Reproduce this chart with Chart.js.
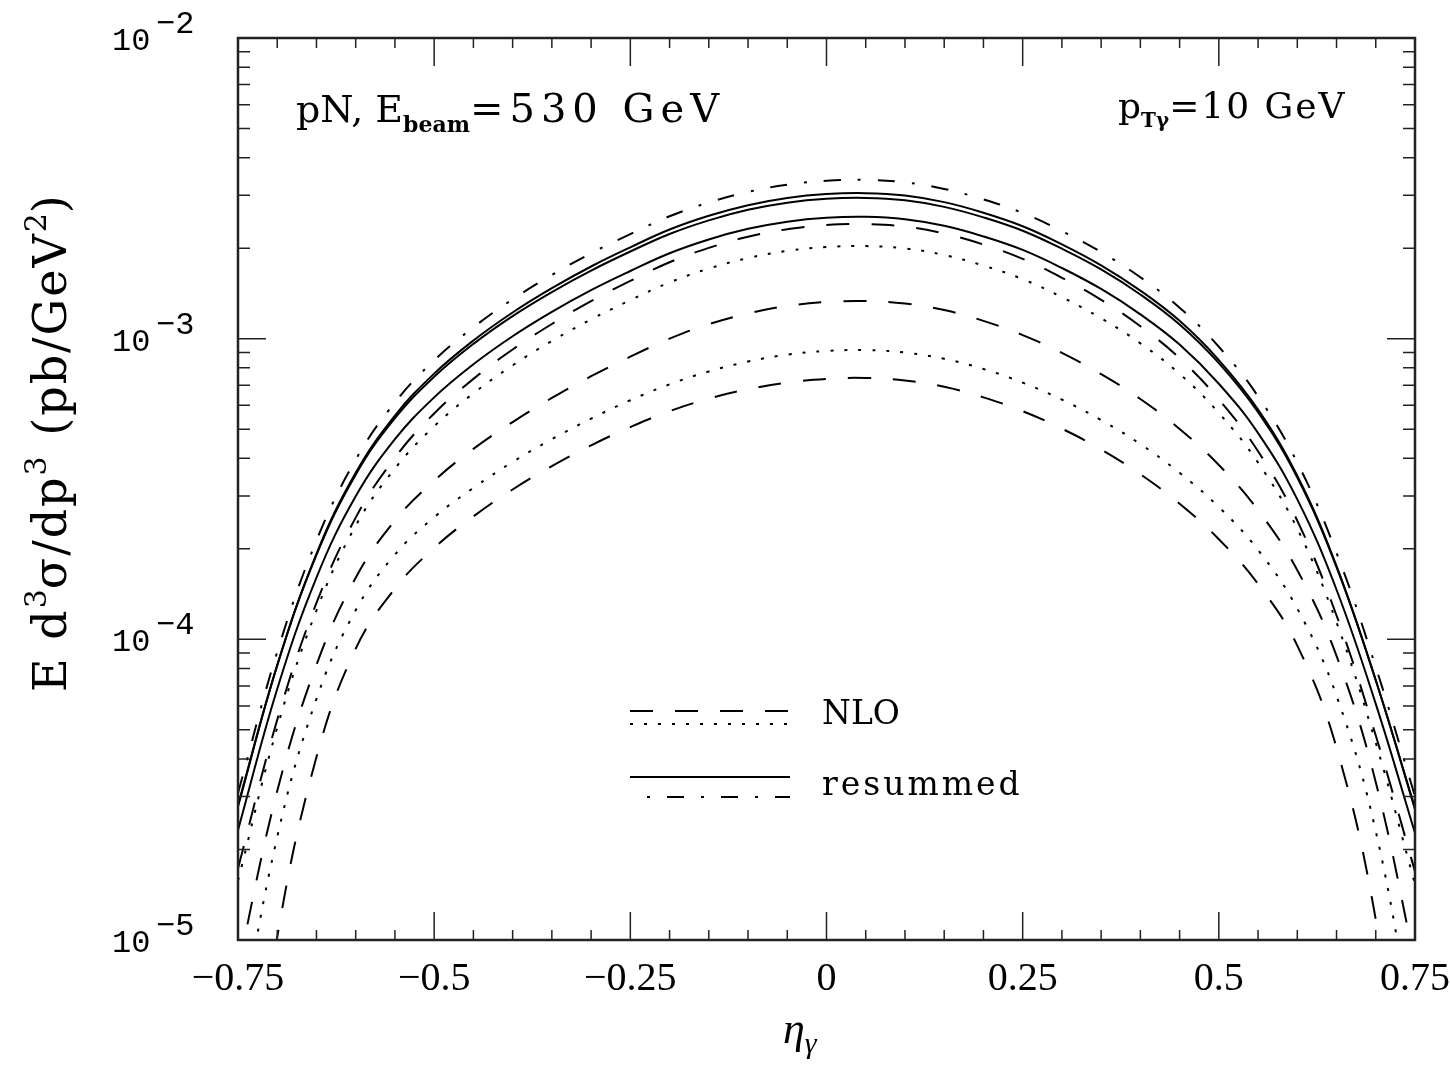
<!DOCTYPE html>
<html>
<head>
<meta charset="utf-8">
<script src="https://cdn.jsdelivr.net/npm/chart.js@4.4.1/dist/chart.umd.min.js"></script>
<style>
  html, body { margin: 0; padding: 0; background: #fff; }
  #wrap { width: 1450px; height: 1065px; }
</style>
</head>
<body>
<div id="wrap"><canvas id="chart" width="1450" height="1065"></canvas></div>
<script>
'use strict';
// photon rapidity grid
const eta = [-0.75,-0.7,-0.65,-0.6,-0.55,-0.5,-0.45,-0.4,-0.35,-0.3,-0.25,-0.2,-0.15,-0.1,-0.05,0,
  0.05,0.1,0.15,0.2,0.25,0.3,0.35,0.4,0.45,0.5,0.55,0.6,0.65,0.7,0.75];

// resummed curves (pb/GeV^2)
const resDashDot = [3.08e-5,9.08e-5,2.13e-4,3.96e-4,6.14e-4,8.47e-4,1.091e-3,1.352e-3,1.629e-3,1.923e-3,2.228e-3,2.553e-3,2.838e-3,3.076e-3,3.251e-3,3.350e-3,
  3.373e-3,3.311e-3,3.148e-3,2.904e-3,2.618e-3,2.280e-3,1.941e-3,1.600e-3,1.268e-3,9.40e-4,6.43e-4,3.87e-4,1.94e-4,8.09e-5,3.01e-5];
const resSolid1 = [2.78e-5,8.20e-5,1.925e-4,3.58e-4,5.55e-4,7.65e-4,9.86e-4,1.222e-3,1.472e-3,1.738e-3,2.013e-3,2.307e-3,2.564e-3,2.780e-3,2.938e-3,3.027e-3,
  3.048e-3,2.992e-3,2.845e-3,2.624e-3,2.366e-3,2.060e-3,1.754e-3,1.445e-3,1.146e-3,8.49e-4,5.81e-4,3.50e-4,1.753e-4,7.31e-5,2.72e-5];
const resSolid2 = [2.81e-5,8.19e-5,1.908e-4,3.53e-4,5.44e-4,7.47e-4,9.61e-4,1.189e-3,1.429e-3,1.684e-3,1.949e-3,2.229e-3,2.474e-3,2.682e-3,2.832e-3,2.918e-3,
  2.938e-3,2.884e-3,2.744e-3,2.532e-3,2.286e-3,1.992e-3,1.700e-3,1.403e-3,1.115e-3,8.29e-4,5.69e-4,3.45e-4,1.739e-4,7.31e-5,2.75e-5];
const resSolid3 = [2.32e-5,6.84e-5,1.605e-4,2.99e-4,4.63e-4,6.38e-4,8.22e-4,1.019e-3,1.228e-3,1.450e-3,1.679e-3,1.924e-3,2.138e-3,2.319e-3,2.450e-3,2.524e-3,
  2.542e-3,2.495e-3,2.373e-3,2.188e-3,1.973e-3,1.718e-3,1.463e-3,1.205e-3,9.56e-4,7.08e-4,4.85e-4,2.92e-4,1.462e-4,6.10e-5,2.27e-5];

// NLO curves
const nloDashed1 = [1.73e-5,5.40e-5,1.321e-4,2.54e-4,4.02e-4,5.64e-4,7.35e-4,9.20e-4,1.119e-3,1.334e-3,1.556e-3,1.795e-3,2.004e-3,2.183e-3,2.312e-3,2.388e-3,
  2.404e-3,2.359e-3,2.236e-3,2.056e-3,1.843e-3,1.594e-3,1.346e-3,1.100e-3,8.61e-4,6.28e-4,4.22e-4,2.48e-4,1.200e-4,4.79e-5,1.69e-5];
const nloDotted1 = [1.574e-5,5.09e-5,1.247e-4,2.388e-4,3.70e-4,5.11e-4,6.58e-4,8.15e-4,9.82e-4,1.159e-3,1.343e-3,1.538e-3,1.710e-3,1.854e-3,1.959e-3,2.018e-3,
  2.032e-3,1.995e-3,1.897e-3,1.750e-3,1.578e-3,1.374e-3,1.169e-3,9.65e-4,7.64e-4,5.66e-4,3.87e-4,2.333e-4,1.138e-4,4.53e-5,1.535e-5];
const nloDashed2 = [8.04e-6,3.13e-5,8.22e-5,1.603e-4,2.483e-4,3.37e-4,4.30e-4,5.28e-4,6.35e-4,7.50e-4,8.71e-4,1.000e-3,1.117e-3,1.213e-3,1.285e-3,1.324e-3,
  1.334e-3,1.309e-3,1.245e-3,1.146e-3,1.028e-3,8.97e-4,7.62e-4,6.30e-4,5.01e-4,3.80e-4,2.69e-4,1.698e-4,8.81e-5,3.35e-5,8.41e-6];
const nloDotted2 = [4.59e-6,2.20e-5,6.34e-5,1.250e-4,1.914e-4,2.547e-4,3.19e-4,3.89e-4,4.63e-4,5.42e-4,6.24e-4,7.05e-4,7.78e-4,8.39e-4,8.85e-4,9.10e-4,
  9.16e-4,8.99e-4,8.57e-4,7.93e-4,7.14e-4,6.27e-4,5.36e-4,4.46e-4,3.58e-4,2.754e-4,1.982e-4,1.265e-4,6.49e-5,2.30e-5,4.59e-6];
const nloDashed3 = [1.17e-6,1.02e-5,4.06e-5,9.31e-5,1.476e-4,2.014e-4,2.564e-4,3.15e-4,3.77e-4,4.42e-4,5.08e-4,5.74e-4,6.32e-4,6.79e-4,7.14e-4,7.35e-4,
  7.40e-4,7.26e-4,6.92e-4,6.38e-4,5.74e-4,5.02e-4,4.28e-4,3.54e-4,2.825e-4,2.153e-4,1.528e-4,9.53e-5,4.36e-5,1.17e-5,1.48e-6];

// axis labels
const xTickValues = [-0.75,-0.5,-0.25,0,0.25,0.5,0.75];
const xTickLabels = ['\u22120.75','\u22120.5','\u22120.25','0','0.25','0.5','0.75'];
const yTickExps = [-2,-3,-4,-5];

const DASHED = [23, 22];
const DOTTED = [3, 11];
const DASHDOT = [17, 17, 3, 17];

function series(vals, dash) {
  return {
    data: eta.map((e, i) => ({x: e, y: vals[i]})),
    borderColor: '#000',
    borderWidth: 2,
    borderDash: dash,
    pointRadius: 0,
    fill: false,
    tension: 0.4
  };
}

const SERIF = '"Liberation Serif", "DejaVu Serif", serif';
const WIDE = '"DejaVu Serif", serif';
const MONO = '"Liberation Mono", "DejaVu Sans Mono", monospace';

// draws text pieces one after another (sub/superscripts via dy)
function textRuns(ctx, x, y, parts) {
  let cx = x;
  for (const p of parts) {
    ctx.font = p.font;
    ctx.letterSpacing = (p.sp || 0) + 'px';
    ctx.fillText(p.t, cx, y + (p.dy || 0));
    cx += ctx.measureText(p.t).width;
  }
  ctx.letterSpacing = '0px';
}

const frame = {
  id: 'frame',
  afterDraw(chart) {
    const {ctx, chartArea: a, scales: {x, y}} = chart;
    ctx.save();
    ctx.strokeStyle = '#222';
    ctx.fillStyle = '#000';

    // x ticks every 0.05, major every 0.25
    ctx.lineWidth = 1.5;
    ctx.beginPath();
    for (let i = 0; i <= 30; i++) {
      const px = x.getPixelForValue(-0.75 + i * 0.05);
      const len = i % 5 === 0 ? 28 : 10;
      ctx.moveTo(px, a.bottom); ctx.lineTo(px, a.bottom - len);
      ctx.moveTo(px, a.top); ctx.lineTo(px, a.top + len);
    }
    // y ticks at 1..9 x decade
    for (let e = -5; e < -2; e++) {
      for (let m = 1; m <= 9; m++) {
        const py = y.getPixelForValue(m * Math.pow(10, e));
        const len = m === 1 ? 28 : 12;
        ctx.moveTo(a.left, py); ctx.lineTo(a.left + len, py);
        ctx.moveTo(a.right, py); ctx.lineTo(a.right - len, py);
      }
    }
    ctx.stroke();
    ctx.lineWidth = 2.5;
    ctx.strokeRect(a.left, a.top, a.right - a.left, a.bottom - a.top);

    // x tick labels
    ctx.textAlign = 'center';
    ctx.textBaseline = 'alphabetic';
    ctx.font = '40px ' + SERIF;
    xTickValues.forEach((v, i) => {
      ctx.fillText(xTickLabels[i], x.getPixelForValue(v), a.bottom + 50);
    });

    // y tick labels 10^n
    ctx.textAlign = 'left';
    yTickExps.forEach(e => {
      const py = y.getPixelForValue(Math.pow(10, e));
      ctx.font = '32px ' + MONO;
      ctx.fillText('10', 112, py + 12);
      ctx.fillText('\u2212' + Math.abs(e), 156, py - 5);
    });

    // axis titles
    textRuns(ctx, 783, 1043, [
      {t: '\u03b7', font: 'italic 44px ' + SERIF},
      {t: '\u03b3', font: 'italic 30px ' + SERIF, dy: 10}
    ]);
    ctx.save();
    ctx.translate(66, 692);
    ctx.rotate(-Math.PI / 2);
    textRuns(ctx, 0, 0, [
      {t: 'E d', font: '46px ' + WIDE, sp: 2},
      {t: '3', font: '30px ' + WIDE, dy: -20},
      {t: '\u03c3/dp', font: '46px ' + WIDE, sp: 2},
      {t: '3', font: '30px ' + WIDE, dy: -20, sp: 4},
      {t: ' (pb/GeV', font: '46px ' + WIDE, sp: 2},
      {t: '2', font: '30px ' + WIDE, dy: -20},
      {t: ')', font: '46px ' + WIDE}
    ]);
    ctx.restore();

    // annotations
    textRuns(ctx, 296, 122, [
      {t: 'pN, E', font: '38px ' + WIDE},
      {t: 'beam', font: 'bold 22px ' + WIDE, dy: 10},
      {t: '=530 GeV', font: '40px ' + WIDE, sp: 6}
    ]);
    textRuns(ctx, 1118, 118, [
      {t: 'p', font: '36px ' + WIDE},
      {t: 'T\u03b3', font: 'bold 20px ' + WIDE, dy: 9},
      {t: '=10 GeV', font: '36px ' + WIDE, sp: 2}
    ]);

    // legend
    const leg = [
      {y: 711, dash: DASHED, off: 0}, {y: 724, dash: DOTTED, off: 0},
      {y: 777, dash: [], off: 0}, {y: 797, dash: DASHDOT, off: 17}
    ];
    ctx.lineWidth = 2;
    ctx.strokeStyle = '#000';
    leg.forEach(l => {
      ctx.setLineDash(l.dash);
      ctx.lineDashOffset = l.off;
      ctx.beginPath();
      ctx.moveTo(630, l.y); ctx.lineTo(790, l.y);
      ctx.stroke();
    });
    ctx.setLineDash([]);
    textRuns(ctx, 822, 724, [{t: 'NLO', font: '33px ' + WIDE}]);
    textRuns(ctx, 822, 795, [{t: 'resummed', font: '33px ' + WIDE, sp: 3}]);
    ctx.restore();
  }
};

new Chart(document.getElementById('chart'), {
  type: 'line',
  data: {
    datasets: [
      series(resDashDot, DASHDOT),
      series(resSolid1, []),
      series(resSolid2, []),
      series(resSolid3, []),
      series(nloDashed1, DASHED),
      series(nloDotted1, DOTTED),
      series(nloDashed2, DASHED),
      series(nloDotted2, DOTTED),
      series(nloDashed3, DASHED)
    ]
  },
  options: {
    responsive: false,
    animation: false,
    devicePixelRatio: 1,
    layout: {padding: {top: 38, right: 35, left: 0, bottom: 0}},
    plugins: {legend: {display: false}, tooltip: {enabled: false}},
    scales: {
      x: {
        type: 'linear', min: -0.75, max: 0.75,
        grid: {display: false}, border: {display: false},
        ticks: {display: false},
        afterFit: s => { s.height = 125; }
      },
      y: {
        type: 'logarithmic', min: 1e-5, max: 1e-2,
        grid: {display: false}, border: {display: false},
        ticks: {display: false},
        afterFit: s => { s.width = 238; }
      }
    }
  },
  plugins: [frame]
});
</script>
</body>
</html>
